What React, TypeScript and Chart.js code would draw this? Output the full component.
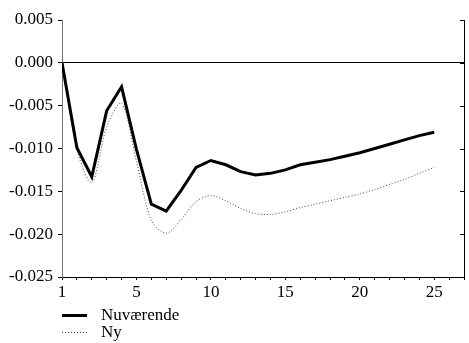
import React, { useEffect, useRef } from "react";
import { Chart, registerables } from "chart.js";

Chart.register(...registerables);

const periods = [0, 1, 2, 3, 4, 5, 6, 7, 8, 9, 10, 11, 12, 13, 14, 15, 16, 17, 18, 19, 20, 21, 22, 23, 24, 25];
const nuvaerende = [0, -0.0099, -0.0133, -0.0056, -0.0028, -0.0101, -0.0165, -0.0173, -0.0149, -0.0122, -0.0114, -0.0119, -0.0127, -0.0131, -0.0129, -0.0125, -0.0119, -0.0116, -0.0113, -0.0109, -0.0105, -0.0100, -0.0095, -0.0090, -0.0085, -0.0081];
const ny = [0, -0.0101, -0.0140, -0.0075, -0.0047, -0.0115, -0.0184, -0.0199, -0.0183, -0.0162, -0.0155, -0.0161, -0.0170, -0.0176, -0.0177, -0.0174, -0.0169, -0.0165, -0.0161, -0.0157, -0.0153, -0.0148, -0.0142, -0.0136, -0.0129, -0.0122];
const seriesNames = ["Nuværende", "Ny"];
const xTickLabels: Record<number, string> = { 0: "1", 5: "5", 10: "10", 15: "15", 20: "20", 25: "25" };

const FONT = "'Times New Roman', 'Liberation Serif', 'DejaVu Serif', serif";
const FONT_SIZE = 17;

Chart.defaults.font.family = FONT;
Chart.defaults.font.size = FONT_SIZE;
Chart.defaults.color = "#000";

const legendPlugin = {
  id: "customLegend",
  afterDraw(chart: any) {
    const ctx = chart.ctx;
    const left = chart.chartArea.left;
    const rows = [315, 332];
    chart.data.datasets.forEach((ds: any, i: number) => {
      const y = rows[i];
      ctx.save();
      ctx.strokeStyle = ds.borderColor;
      ctx.lineWidth = ds.borderWidth;
      ctx.setLineDash(ds.borderDash || []);
      ctx.beginPath();
      ctx.moveTo(left, y + 0.5);
      ctx.lineTo(left + 25, y + 0.5);
      ctx.stroke();
      ctx.setLineDash([]);
      ctx.fillStyle = "#000";
      ctx.font = FONT_SIZE + "px " + FONT;
      ctx.textBaseline = "middle";
      ctx.fillText(ds.label, left + 39, y + 1);
      ctx.restore();
    });
  },
};

export default function App() {
  const ref = useRef<HTMLCanvasElement>(null);
  useEffect(() => {
    if (!ref.current) return;
    const tickFont = { family: FONT, size: FONT_SIZE, lineHeight: 1.2 };
    const chart = new Chart(ref.current, {
      type: "line",
      data: {
        datasets: [
          {
            label: seriesNames[0],
            data: periods.map((p, i) => ({ x: p, y: nuvaerende[i] })),
            borderColor: "#000",
            borderWidth: 3,
            pointRadius: 0,
            tension: 0,
            fill: false,
          },
          {
            label: seriesNames[1],
            data: periods.map((p, i) => ({ x: p, y: ny[i] })),
            borderColor: "#444",
            borderWidth: 1,
            borderDash: [1, 2],
            pointRadius: 0,
            tension: 0.3,
            fill: false,
          },
        ],
      },
      options: {
        animation: false,
        responsive: false,
        layout: { padding: { top: 20, right: 0, left: 0, bottom: 0 } },
        plugins: { legend: { display: false }, tooltip: { enabled: false } },
        scales: {
          x: {
            type: "linear",
            min: 0,
            max: 27,
            ticks: {
              stepSize: 1,
              autoSkip: false,
              maxRotation: 0,
              padding: 2,
              color: "#000",
              font: tickFont,
              callback: (v: any) => (xTickLabels[v] !== undefined ? xTickLabels[v] : ""),
            },
            grid: { drawOnChartArea: false, tickLength: 3, tickColor: "#000" },
            border: { color: "#000", width: 1 },
            afterFit: (s: any) => { s.height = 66; },
          },
          y: {
            min: -0.025,
            max: 0.005,
            position: "left",
            ticks: {
              stepSize: 0.005,
              padding: 5,
              color: "#000",
              font: tickFont,
              callback: (v: any) => Number(v).toFixed(3),
            },
            grid: {
              color: (c: any) => (c.tick && Math.abs(c.tick.value) < 1e-9 ? "#000" : "rgba(0,0,0,0)"),
              tickColor: "#000",
              tickLength: 4,
              lineWidth: 1,
            },
            border: { color: "#777", width: 1 },
            afterFit: (s: any) => { s.width = 62; },
          },
          y2: {
            min: -0.025,
            max: 0.005,
            position: "right",
            ticks: { stepSize: 0.005, display: false },
            grid: { drawOnChartArea: false, tickLength: 0, tickColor: "#000" },
            border: { color: "#000", width: 1 },
            afterFit: (s: any) => { s.width = 5; },
          },
        },
      },
      plugins: [
        legendPlugin,
        {
          id: "rightTicks",
          afterDraw(chart: any) {
            const ctx = chart.ctx;
            const s = chart.scales.y2;
            const right = chart.chartArea.right;
            ctx.save();
            ctx.strokeStyle = "#000";
            ctx.lineWidth = 1;
            s.ticks.forEach((t: any) => {
              const y = Math.round(s.getPixelForValue(t.value)) + 0.5;
              ctx.beginPath();
              ctx.moveTo(right - 4, y);
              ctx.lineTo(right, y);
              ctx.stroke();
            });
            ctx.restore();
          },
        },
      ],
    } as any);
    return () => chart.destroy();
  }, []);
  return (
    <div style={{ position: "absolute", left: 0, top: 0, width: 469, height: 343, background: "#fff" }}>
      <canvas ref={ref} width={469} height={343} style={{ width: 469, height: 343 }} />
    </div>
  );
}
